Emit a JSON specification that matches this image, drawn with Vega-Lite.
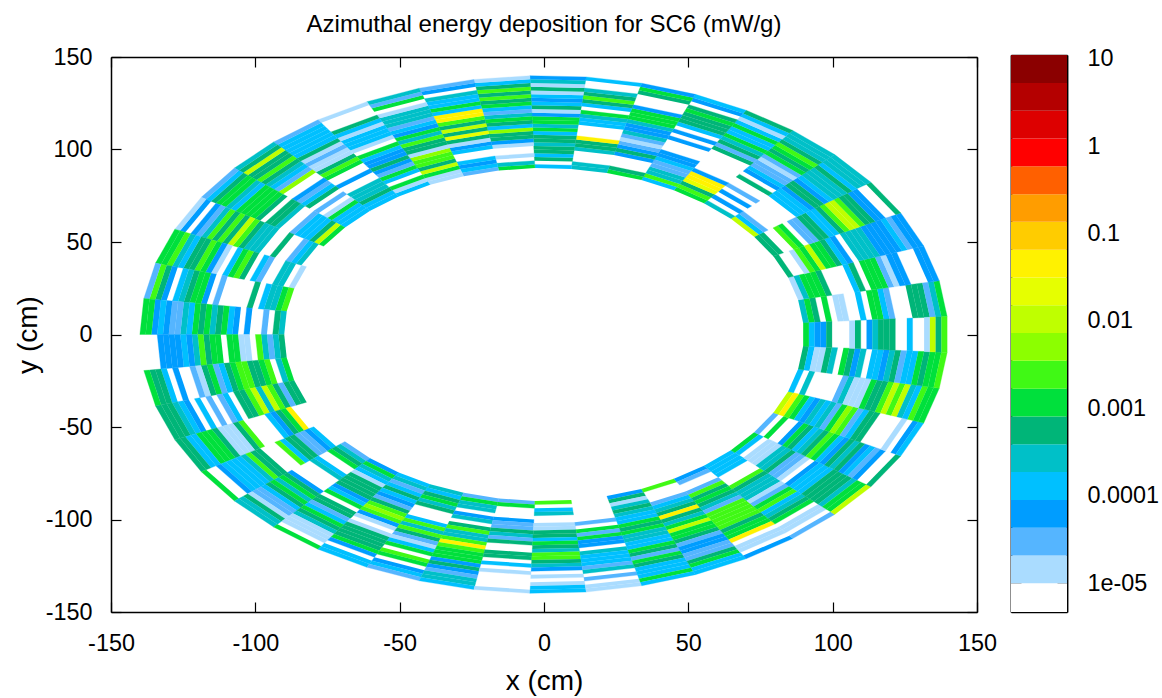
{"$schema":"https://vega.github.io/schema/vega-lite/v6.json","background":"white","width":1162,"height":698,"autosize":{"type":"none"},"padding":0,"config":{"font":"Liberation Sans","view":{"stroke":null},"axis":{"labelFont":"Liberation Sans","titleFont":"Liberation Sans","labelFontSize":23.4,"titleFontSize":28,"labelColor":"black","titleColor":"black","tickColor":"black","tickWidth":1.2,"domain":true,"domainColor":"black","domainWidth":1.5,"grid":false,"titleFontWeight":"normal","labelFlush":false,"labelOverlap":false}},
"title":{"text":"Azimuthal energy deposition for SC6 (mW/g)","font":"Liberation Sans","fontSize":24,"fontWeight":"normal","anchor":"middle","frame":"group","offset":-37,"dx":-37},
"resolve":{"scale":{"x":"independent","y":"independent","fill":"independent","stroke":"independent","color":"independent"},"axis":{"x":"independent","y":"independent"}},
"layer":[{"data":{"values":[
{"s":0,"r":0,"v":2.7e-4},{"s":0,"r":1,"v":1.2e-3},{"s":0,"r":2,"v":5.6e-4},{"s":0,"r":4,"v":1.2e-3},{"s":0,"r":6,"v":1.4e-5},{"s":0,"r":7,"v":1.4e-5},{"s":0,"r":10,"v":1.3e-4},{"s":0,"r":12,"v":1.2e-3},{"s":0,"r":13,"v":1.2e-3},{"s":0,"r":14,"v":1.3e-4},{"s":0,"r":15,"v":3e-5},{"s":0,"r":19,"v":5.6e-4},{"s":0,"r":20,"v":5.6e-4},{"s":0,"r":21,"v":5.6e-4},{"s":0,"r":22,"v":3e-5},{"s":0,"r":23,"v":2.7e-4},{"s":0,"r":24,"v":1.2e-3},
{"s":1,"r":0,"v":1.4e-5},{"s":1,"r":1,"v":2.7e-4},{"s":1,"r":2,"v":1.2e-3},{"s":1,"r":3,"v":1.2e-3},{"s":1,"r":4,"v":1.2e-3},{"s":1,"r":5,"v":5.6e-4},{"s":1,"r":10,"v":1.3e-4},{"s":1,"r":11,"v":5.6e-4},{"s":1,"r":13,"v":1.2e-3},{"s":1,"r":14,"v":1.2e-3},{"s":1,"r":15,"v":1.2e-3},{"s":1,"r":16,"v":3e-5},{"s":1,"r":17,"v":1.4e-5},{"s":1,"r":18,"v":6.2e-5},{"s":1,"r":19,"v":6.2e-5},{"s":1,"r":23,"v":6.2e-5},{"s":1,"r":24,"v":6.2e-5},
{"s":2,"r":0,"v":5.6e-4},{"s":2,"r":3,"v":1.4e-5},{"s":2,"r":4,"v":2.4e-3},{"s":2,"r":5,"v":1.2e-3},{"s":2,"r":6,"v":1e-2},{"s":2,"r":7,"v":1.2e-3},{"s":2,"r":8,"v":1.2e-3},{"s":2,"r":9,"v":5.6e-4},{"s":2,"r":10,"v":1.3e-4},{"s":2,"r":11,"v":6.2e-5},{"s":2,"r":13,"v":2.7e-4},{"s":2,"r":14,"v":2.7e-4},{"s":2,"r":15,"v":2.7e-4},{"s":2,"r":16,"v":2.7e-4},{"s":2,"r":17,"v":6.2e-5},{"s":2,"r":18,"v":6.2e-5},{"s":2,"r":19,"v":6.2e-5},{"s":2,"r":20,"v":6.2e-5},{"s":2,"r":21,"v":1.3e-4},{"s":2,"r":22,"v":3e-5},{"s":2,"r":23,"v":6.2e-5},{"s":2,"r":24,"v":6.2e-5},
{"s":3,"r":0,"v":5.6e-4},{"s":3,"r":1,"v":5.6e-4},{"s":3,"r":4,"v":2.4e-3},{"s":3,"r":5,"v":1.2e-3},{"s":3,"r":7,"v":3e-5},{"s":3,"r":8,"v":3e-5},{"s":3,"r":9,"v":5.6e-4},{"s":3,"r":10,"v":5.6e-4},{"s":3,"r":11,"v":1.3e-4},{"s":3,"r":12,"v":1.3e-4},{"s":3,"r":13,"v":5.6e-4},{"s":3,"r":14,"v":2.4e-3},{"s":3,"r":15,"v":1e-2},{"s":3,"r":16,"v":1e-2},{"s":3,"r":17,"v":2.4e-3},{"s":3,"r":18,"v":5.6e-4},{"s":3,"r":19,"v":5.6e-4},{"s":3,"r":20,"v":6.2e-5},{"s":3,"r":21,"v":6.2e-5},{"s":3,"r":24,"v":5.6e-4},
{"s":4,"r":0,"v":1e-2},{"s":4,"r":1,"v":1.3e-4},{"s":4,"r":2,"v":3e-5},{"s":4,"r":9,"v":1.3e-4},{"s":4,"r":10,"v":1.3e-4},{"s":4,"r":11,"v":1.3e-4},{"s":4,"r":12,"v":6.2e-5},{"s":4,"r":13,"v":5.6e-4},{"s":4,"r":14,"v":5.6e-4},{"s":4,"r":15,"v":6.2e-5},{"s":4,"r":16,"v":1.3e-4},{"s":4,"r":17,"v":2.7e-4},{"s":4,"r":18,"v":2.7e-4},{"s":4,"r":19,"v":2.7e-4},{"s":4,"r":20,"v":5.6e-4},{"s":4,"r":21,"v":1.3e-4},{"s":4,"r":22,"v":2.7e-4},{"s":4,"r":23,"v":2.7e-4},{"s":4,"r":24,"v":2.7e-4},
{"s":5,"r":0,"v":2.7e-4},{"s":5,"r":2,"v":6.2e-5},{"s":5,"r":4,"v":6.2e-5},{"s":5,"r":6,"v":3e-5},{"s":5,"r":9,"v":5.6e-4},{"s":5,"r":11,"v":6.2e-5},{"s":5,"r":12,"v":1.3e-4},{"s":5,"r":13,"v":3e-5},{"s":5,"r":14,"v":3e-5},{"s":5,"r":15,"v":1.4e-5},{"s":5,"r":16,"v":3e-5},{"s":5,"r":17,"v":1.2e-3},{"s":5,"r":18,"v":5.6e-4},{"s":5,"r":19,"v":1.2e-3},{"s":5,"r":20,"v":2.4e-3},{"s":5,"r":21,"v":5.6e-4},{"s":5,"r":22,"v":2.7e-4},{"s":5,"r":23,"v":2.7e-4},{"s":5,"r":24,"v":2.7e-4},
{"s":6,"r":0,"v":1.2e-3},{"s":6,"r":1,"v":2.4e-3},{"s":6,"r":2,"v":5.6e-4},{"s":6,"r":3,"v":2.2e-2},{"s":6,"r":4,"v":4.5e-2},{"s":6,"r":5,"v":4.5e-2},{"s":6,"r":6,"v":6.2e-5},{"s":6,"r":13,"v":5.6e-4},{"s":6,"r":14,"v":3e-5},{"s":6,"r":15,"v":5.6e-4},{"s":6,"r":16,"v":2.7e-4},{"s":6,"r":17,"v":1.2e-3},{"s":6,"r":18,"v":1.3e-4},{"s":6,"r":19,"v":1.3e-4},{"s":6,"r":20,"v":1.2e-3},{"s":6,"r":21,"v":1.3e-4},{"s":6,"r":22,"v":1.4e-5},{"s":6,"r":23,"v":1.3e-4},{"s":6,"r":24,"v":5.6e-4},
{"s":7,"r":0,"v":1.3e-4},{"s":7,"r":1,"v":2.4e-3},{"s":7,"r":2,"v":2.7e-4},{"s":7,"r":3,"v":2.7e-4},{"s":7,"r":4,"v":3e-5},{"s":7,"r":5,"v":3e-5},{"s":7,"r":6,"v":1.3e-4},{"s":7,"r":7,"v":6.2e-5},{"s":7,"r":8,"v":6.2e-5},{"s":7,"r":12,"v":6.2e-5},{"s":7,"r":14,"v":6.2e-5},{"s":7,"r":16,"v":1.3e-4},{"s":7,"r":17,"v":5.6e-4},{"s":7,"r":18,"v":5.6e-4},{"s":7,"r":19,"v":5.6e-4},{"s":7,"r":20,"v":1.2e-3},{"s":7,"r":21,"v":5.6e-4},{"s":7,"r":23,"v":6.2e-5},{"s":7,"r":24,"v":1.3e-4},
{"s":8,"r":0,"v":1.2e-3},{"s":8,"r":1,"v":5.6e-4},{"s":8,"r":5,"v":6.2e-5},{"s":8,"r":6,"v":5.6e-4},{"s":8,"r":7,"v":6.2e-5},{"s":8,"r":8,"v":3e-5},{"s":8,"r":9,"v":1.4e-5},{"s":8,"r":10,"v":3e-5},{"s":8,"r":11,"v":2.7e-4},{"s":8,"r":12,"v":6.2e-5},{"s":8,"r":13,"v":6.2e-5},{"s":8,"r":14,"v":2.7e-4},{"s":8,"r":15,"v":1.2e-3},{"s":8,"r":16,"v":1.2e-3},{"s":8,"r":17,"v":1.2e-3},{"s":8,"r":18,"v":6.2e-5},{"s":8,"r":22,"v":5.6e-4},{"s":8,"r":23,"v":1.2e-3},{"s":8,"r":24,"v":6.2e-5},
{"s":9,"r":0,"v":2.7e-4},{"s":9,"r":1,"v":2.7e-4},{"s":9,"r":5,"v":2.7e-4},{"s":9,"r":6,"v":5.6e-4},{"s":9,"r":7,"v":5.6e-4},{"s":9,"r":8,"v":4.5e-2},{"s":9,"r":12,"v":1.3e-4},{"s":9,"r":13,"v":1.3e-4},{"s":9,"r":14,"v":2.7e-4},{"s":9,"r":15,"v":1.2e-3},{"s":9,"r":17,"v":1.3e-4},{"s":9,"r":18,"v":5.6e-4},{"s":9,"r":19,"v":2.4e-3},{"s":9,"r":20,"v":5.6e-4},{"s":9,"r":21,"v":2.7e-4},{"s":9,"r":24,"v":1.3e-4},
{"s":10,"r":0,"v":1.3e-4},{"s":10,"r":2,"v":5.6e-4},{"s":10,"r":3,"v":1.3e-4},{"s":10,"r":4,"v":5.6e-4},{"s":10,"r":5,"v":5.6e-4},{"s":10,"r":6,"v":2.7e-4},{"s":10,"r":7,"v":5.6e-4},{"s":10,"r":8,"v":5.6e-4},{"s":10,"r":9,"v":1.3e-4},{"s":10,"r":10,"v":1.2e-3},{"s":10,"r":11,"v":2.7e-4},{"s":10,"r":12,"v":1.2e-3},{"s":10,"r":13,"v":1.2e-3},{"s":10,"r":14,"v":6.2e-5},{"s":10,"r":15,"v":1.4e-5},{"s":10,"r":16,"v":5.6e-4},{"s":10,"r":17,"v":1.3e-4},{"s":10,"r":18,"v":6.2e-5},{"s":10,"r":19,"v":1.3e-4},{"s":10,"r":20,"v":1.4e-5},{"s":10,"r":21,"v":5.6e-4},{"s":10,"r":22,"v":1.4e-5},{"s":10,"r":23,"v":2.7e-4},{"s":10,"r":24,"v":6.2e-5},
{"s":11,"r":0,"v":1.2e-3},{"s":11,"r":1,"v":2.7e-4},{"s":11,"r":3,"v":1.4e-5},{"s":11,"r":6,"v":1.4e-5},{"s":11,"r":7,"v":6.2e-5},{"s":11,"r":8,"v":5.6e-4},{"s":11,"r":9,"v":5.6e-4},{"s":11,"r":10,"v":5e-3},{"s":11,"r":11,"v":1.3e-4},{"s":11,"r":12,"v":5.6e-4},{"s":11,"r":13,"v":1.2e-3},{"s":11,"r":14,"v":2.7e-4},{"s":11,"r":15,"v":3e-5},{"s":11,"r":16,"v":1.3e-4},{"s":11,"r":17,"v":1.2e-3},{"s":11,"r":18,"v":5.6e-4},{"s":11,"r":19,"v":2.4e-3},{"s":11,"r":20,"v":5.6e-4},{"s":11,"r":21,"v":2.4e-3},{"s":11,"r":22,"v":5.6e-4},{"s":11,"r":23,"v":1.3e-4},{"s":11,"r":24,"v":1.4e-5},
{"s":12,"r":0,"v":3e-5},{"s":12,"r":1,"v":1.3e-4},{"s":12,"r":2,"v":6.2e-5},{"s":12,"r":3,"v":1.3e-4},{"s":12,"r":6,"v":1.3e-4},{"s":12,"r":7,"v":6.2e-5},{"s":12,"r":8,"v":1.4e-5},{"s":12,"r":9,"v":5.6e-4},{"s":12,"r":10,"v":2.2e-2},{"s":12,"r":11,"v":5.6e-4},{"s":12,"r":12,"v":1e-2},{"s":12,"r":13,"v":5.6e-4},{"s":12,"r":14,"v":2.4e-3},{"s":12,"r":15,"v":4.5e-2},{"s":12,"r":16,"v":4.5e-2},{"s":12,"r":17,"v":1.3e-4},{"s":12,"r":18,"v":1.2e-3},{"s":12,"r":19,"v":1.3e-4},{"s":12,"r":20,"v":1.3e-4},{"s":12,"r":21,"v":2.7e-4},{"s":12,"r":23,"v":6.2e-5},{"s":12,"r":24,"v":3e-5},
{"s":13,"r":0,"v":1.4e-5},{"s":13,"r":1,"v":1.4e-5},{"s":13,"r":2,"v":1.2e-3},{"s":13,"r":3,"v":1e-2},{"s":13,"r":4,"v":5.6e-4},{"s":13,"r":5,"v":2.4e-3},{"s":13,"r":6,"v":2.4e-3},{"s":13,"r":7,"v":5e-3},{"s":13,"r":8,"v":1.4e-5},{"s":13,"r":9,"v":5.6e-4},{"s":13,"r":10,"v":5.6e-4},{"s":13,"r":11,"v":2.4e-3},{"s":13,"r":12,"v":2.7e-4},{"s":13,"r":13,"v":1.2e-3},{"s":13,"r":14,"v":6.2e-5},{"s":13,"r":15,"v":1.3e-4},{"s":13,"r":16,"v":3e-5},{"s":13,"r":17,"v":2.7e-4},{"s":13,"r":18,"v":2.7e-4},{"s":13,"r":19,"v":2.7e-4},{"s":13,"r":20,"v":1.4e-5},{"s":13,"r":22,"v":1.2e-3},{"s":13,"r":23,"v":3e-5},{"s":13,"r":24,"v":2.7e-4},
{"s":14,"r":0,"v":1.3e-4},{"s":14,"r":1,"v":1.4e-5},{"s":14,"r":2,"v":1.2e-3},{"s":14,"r":4,"v":1.3e-4},{"s":14,"r":5,"v":1.2e-3},{"s":14,"r":6,"v":3e-5},{"s":14,"r":7,"v":6.2e-5},{"s":14,"r":8,"v":5.6e-4},{"s":14,"r":9,"v":6.2e-5},{"s":14,"r":10,"v":6.2e-5},{"s":14,"r":11,"v":1.3e-4},{"s":14,"r":12,"v":1.2e-3},{"s":14,"r":14,"v":1.4e-5},{"s":14,"r":15,"v":1.3e-4},{"s":14,"r":16,"v":1.3e-4},{"s":14,"r":17,"v":1.3e-4},{"s":14,"r":18,"v":1.4e-5},{"s":14,"r":19,"v":1.3e-4},{"s":14,"r":20,"v":5.6e-4},{"s":14,"r":24,"v":1.4e-5},
{"s":15,"r":0,"v":1.3e-4},{"s":15,"r":1,"v":1.3e-4},{"s":15,"r":2,"v":5.6e-4},{"s":15,"r":3,"v":2.7e-4},{"s":15,"r":4,"v":2.7e-4},{"s":15,"r":5,"v":2.7e-4},{"s":15,"r":8,"v":6.2e-5},{"s":15,"r":11,"v":1.2e-3},{"s":15,"r":12,"v":2.4e-3},{"s":15,"r":13,"v":5.6e-4},{"s":15,"r":14,"v":1.4e-5},{"s":15,"r":15,"v":1.4e-5},{"s":15,"r":16,"v":3e-5},{"s":15,"r":17,"v":1.4e-5},{"s":15,"r":18,"v":5.6e-4},{"s":15,"r":19,"v":1.3e-4},{"s":15,"r":20,"v":1.3e-4},{"s":15,"r":21,"v":1.3e-4},{"s":15,"r":22,"v":1.3e-4},{"s":15,"r":23,"v":1.3e-4},{"s":15,"r":24,"v":3e-5},
{"s":16,"r":0,"v":1.3e-4},{"s":16,"r":1,"v":1.3e-4},{"s":16,"r":2,"v":1.3e-4},{"s":16,"r":3,"v":1.2e-3},{"s":16,"r":4,"v":1.4e-5},{"s":16,"r":6,"v":3e-5},{"s":16,"r":8,"v":5.6e-4},{"s":16,"r":9,"v":1.3e-4},{"s":16,"r":10,"v":3e-5},{"s":16,"r":11,"v":6.2e-5},{"s":16,"r":14,"v":5e-3},{"s":16,"r":15,"v":3e-5},{"s":16,"r":16,"v":1.3e-4},{"s":16,"r":17,"v":2.7e-4},{"s":16,"r":18,"v":5.6e-4},{"s":16,"r":19,"v":2.4e-3},{"s":16,"r":20,"v":5.6e-4},{"s":16,"r":21,"v":5.6e-4},{"s":16,"r":22,"v":1e-2},{"s":16,"r":23,"v":5.6e-4},{"s":16,"r":24,"v":2.7e-4},
{"s":17,"r":0,"v":1.2e-3},{"s":17,"r":1,"v":1e-2},{"s":17,"r":2,"v":5.6e-4},{"s":17,"r":3,"v":1.3e-4},{"s":17,"r":4,"v":1.3e-4},{"s":17,"r":5,"v":1.3e-4},{"s":17,"r":6,"v":3e-5},{"s":17,"r":9,"v":2.7e-4},{"s":17,"r":10,"v":5.6e-4},{"s":17,"r":11,"v":5.6e-4},{"s":17,"r":13,"v":5.6e-4},{"s":17,"r":14,"v":1.2e-3},{"s":17,"r":15,"v":1.2e-3},{"s":17,"r":16,"v":1.2e-3},{"s":17,"r":17,"v":1.2e-3},{"s":17,"r":18,"v":1.3e-4},{"s":17,"r":19,"v":2.7e-4},{"s":17,"r":20,"v":1.2e-3},{"s":17,"r":21,"v":1.2e-3},{"s":17,"r":22,"v":5.6e-4},{"s":17,"r":23,"v":1.3e-4},{"s":17,"r":24,"v":3e-5},
{"s":18,"r":1,"v":2.7e-4},{"s":18,"r":2,"v":1.3e-4},{"s":18,"r":3,"v":3e-5},{"s":18,"r":6,"v":5.6e-4},{"s":18,"r":9,"v":2.7e-4},{"s":18,"r":10,"v":2.7e-4},{"s":18,"r":11,"v":2.7e-4},{"s":18,"r":12,"v":5.6e-4},{"s":18,"r":13,"v":2.4e-3},{"s":18,"r":14,"v":1e-2},{"s":18,"r":15,"v":5.6e-4},{"s":18,"r":16,"v":2.4e-3},{"s":18,"r":17,"v":5.6e-4},{"s":18,"r":18,"v":2.4e-3},{"s":18,"r":19,"v":2.7e-4},{"s":18,"r":20,"v":3e-5},{"s":18,"r":21,"v":6.2e-5},{"s":18,"r":23,"v":6.2e-5},{"s":18,"r":24,"v":1.4e-5},
{"s":19,"r":0,"v":1.4e-5},{"s":19,"r":2,"v":2.7e-4},{"s":19,"r":3,"v":2.7e-4},{"s":19,"r":6,"v":3e-5},{"s":19,"r":7,"v":1.3e-4},{"s":19,"r":9,"v":5.6e-4},{"s":19,"r":10,"v":2.4e-3},{"s":19,"r":11,"v":1.2e-3},{"s":19,"r":12,"v":1.3e-4},{"s":19,"r":14,"v":1.4e-5},{"s":19,"r":15,"v":6.2e-5},{"s":19,"r":16,"v":1.2e-3},{"s":19,"r":17,"v":2.4e-3},{"s":19,"r":18,"v":5.6e-4},{"s":19,"r":19,"v":5.6e-4},{"s":19,"r":20,"v":1.3e-4},{"s":19,"r":21,"v":2.7e-4},{"s":19,"r":22,"v":2.4e-3},{"s":19,"r":23,"v":1.2e-3},{"s":19,"r":24,"v":1.2e-3},
{"s":20,"r":0,"v":2.4e-3},{"s":20,"r":1,"v":1.2e-3},{"s":20,"r":2,"v":2.7e-4},{"s":20,"r":3,"v":2.7e-4},{"s":20,"r":4,"v":1.3e-4},{"s":20,"r":6,"v":5.6e-4},{"s":20,"r":12,"v":3e-5},{"s":20,"r":14,"v":6.2e-5},{"s":20,"r":15,"v":1.2e-3},{"s":20,"r":16,"v":1.2e-3},{"s":20,"r":17,"v":5.6e-4},{"s":20,"r":18,"v":2.7e-4},{"s":20,"r":19,"v":1.3e-4},{"s":20,"r":21,"v":6.2e-5},{"s":20,"r":22,"v":5.6e-4},{"s":20,"r":23,"v":2.4e-3},{"s":20,"r":24,"v":3e-5},
{"s":21,"r":0,"v":2.7e-4},{"s":21,"r":1,"v":5.6e-4},{"s":21,"r":3,"v":3e-5},{"s":21,"r":6,"v":6.2e-5},{"s":21,"r":8,"v":6.2e-5},{"s":21,"r":9,"v":1.3e-4},{"s":21,"r":10,"v":1.2e-3},{"s":21,"r":11,"v":5.6e-4},{"s":21,"r":12,"v":2.7e-4},{"s":21,"r":13,"v":1.2e-3},{"s":21,"r":14,"v":5.6e-4},{"s":21,"r":15,"v":1.2e-3},{"s":21,"r":16,"v":1.3e-4},{"s":21,"r":17,"v":2.7e-4},{"s":21,"r":18,"v":3e-5},{"s":21,"r":19,"v":3e-5},{"s":21,"r":20,"v":6.2e-5},{"s":21,"r":21,"v":1.3e-4},{"s":21,"r":22,"v":6.2e-5},{"s":21,"r":23,"v":1.2e-3},{"s":21,"r":24,"v":1.2e-3},
{"s":22,"r":0,"v":5.6e-4},{"s":22,"r":1,"v":2.7e-4},{"s":22,"r":2,"v":3e-5},{"s":22,"r":3,"v":2.7e-4},{"s":22,"r":4,"v":2.4e-3},{"s":22,"r":6,"v":1.4e-5},{"s":22,"r":7,"v":1.4e-5},{"s":22,"r":8,"v":1.2e-3},{"s":22,"r":9,"v":1.2e-3},{"s":22,"r":11,"v":1.2e-3},{"s":22,"r":12,"v":1.2e-3},{"s":22,"r":13,"v":5.6e-4},{"s":22,"r":14,"v":2.4e-3},{"s":22,"r":15,"v":2.7e-4},{"s":22,"r":16,"v":6.2e-5},{"s":22,"r":17,"v":1.3e-4},{"s":22,"r":18,"v":6.2e-5},{"s":22,"r":19,"v":6.2e-5},{"s":22,"r":20,"v":6.2e-5},{"s":22,"r":21,"v":6.2e-5},
{"s":23,"r":0,"v":1.2e-3},{"s":23,"r":1,"v":2.7e-4},{"s":23,"r":3,"v":2.4e-3},{"s":23,"r":4,"v":1.2e-3},{"s":23,"r":5,"v":5.6e-4},{"s":23,"r":6,"v":5.6e-4},{"s":23,"r":7,"v":2.4e-3},{"s":23,"r":8,"v":2.4e-3},{"s":23,"r":9,"v":1.2e-3},{"s":23,"r":10,"v":5.6e-4},{"s":23,"r":11,"v":1.3e-4},{"s":23,"r":12,"v":3e-5},{"s":23,"r":13,"v":1.2e-3},{"s":23,"r":14,"v":5.6e-4},{"s":23,"r":15,"v":1.4e-5},{"s":23,"r":16,"v":3e-5},{"s":23,"r":19,"v":6.2e-5},{"s":23,"r":21,"v":1.3e-4},{"s":23,"r":22,"v":5.6e-4},{"s":23,"r":23,"v":5.6e-4},{"s":23,"r":24,"v":1.2e-3},
{"s":24,"r":0,"v":5.6e-4},{"s":24,"r":1,"v":5.6e-4},{"s":24,"r":2,"v":3e-5},{"s":24,"r":3,"v":5.6e-4},{"s":24,"r":4,"v":2.4e-3},{"s":24,"r":5,"v":1e-2},{"s":24,"r":6,"v":2.7e-4},{"s":24,"r":7,"v":1e-2},{"s":24,"r":8,"v":2.4e-3},{"s":24,"r":9,"v":5.6e-4},{"s":24,"r":10,"v":5.6e-4},{"s":24,"r":12,"v":1.3e-4},{"s":24,"r":13,"v":3e-5},{"s":24,"r":15,"v":3e-5},{"s":24,"r":17,"v":1.3e-4},{"s":24,"r":19,"v":6.2e-5},{"s":24,"r":20,"v":1.3e-4},{"s":24,"r":21,"v":2.7e-4},{"s":24,"r":22,"v":5.6e-4},{"s":24,"r":23,"v":5.6e-4},{"s":24,"r":24,"v":5.6e-4},
{"s":25,"r":3,"v":4.5e-2},{"s":25,"r":4,"v":1.2e-3},{"s":25,"r":5,"v":5.6e-4},{"s":25,"r":6,"v":6.2e-5},{"s":25,"r":7,"v":1.3e-4},{"s":25,"r":12,"v":2.4e-3},{"s":25,"r":13,"v":5.6e-4},{"s":25,"r":14,"v":1.4e-5},{"s":25,"r":15,"v":1.4e-5},{"s":25,"r":16,"v":1.4e-5},{"s":25,"r":17,"v":5.6e-4},{"s":25,"r":18,"v":1.2e-3},{"s":25,"r":19,"v":1.2e-3},{"s":25,"r":20,"v":1.2e-3},{"s":25,"r":21,"v":1.3e-4},{"s":25,"r":22,"v":1.3e-4},{"s":25,"r":23,"v":5.6e-4},{"s":25,"r":24,"v":5.6e-4},
{"s":26,"r":2,"v":1.3e-4},{"s":26,"r":3,"v":6.2e-5},{"s":26,"r":4,"v":3e-5},{"s":26,"r":5,"v":3e-5},{"s":26,"r":6,"v":5.6e-4},{"s":26,"r":7,"v":5.6e-4},{"s":26,"r":8,"v":1.3e-4},{"s":26,"r":9,"v":2.4e-3},{"s":26,"r":13,"v":5.6e-4},{"s":26,"r":14,"v":5.6e-4},{"s":26,"r":15,"v":2.4e-3},{"s":26,"r":16,"v":2.7e-4},{"s":26,"r":17,"v":1.3e-4},{"s":26,"r":18,"v":1.3e-4},{"s":26,"r":19,"v":1.3e-4},{"s":26,"r":20,"v":1.3e-4},{"s":26,"r":21,"v":6.2e-5},{"s":26,"r":24,"v":1.2e-3},
{"s":27,"r":0,"v":3e-5},{"s":27,"r":1,"v":2.7e-4},{"s":27,"r":2,"v":5.6e-4},{"s":27,"r":3,"v":1.2e-3},{"s":27,"r":6,"v":1.3e-4},{"s":27,"r":7,"v":2.7e-4},{"s":27,"r":12,"v":6.2e-5},{"s":27,"r":13,"v":5.6e-4},{"s":27,"r":14,"v":1.2e-3},{"s":27,"r":15,"v":2.7e-4},{"s":27,"r":16,"v":1.2e-3},{"s":27,"r":17,"v":5.6e-4},{"s":27,"r":18,"v":1.3e-4},{"s":27,"r":19,"v":3e-5},{"s":27,"r":20,"v":3e-5},{"s":27,"r":21,"v":1.4e-5},{"s":27,"r":22,"v":5.6e-4},{"s":27,"r":23,"v":2.7e-4},{"s":27,"r":24,"v":2.7e-4},
{"s":28,"r":0,"v":6.2e-5},{"s":28,"r":1,"v":1.2e-3},{"s":28,"r":2,"v":2.7e-4},{"s":28,"r":3,"v":1.3e-4},{"s":28,"r":4,"v":1.4e-5},{"s":28,"r":5,"v":5.6e-4},{"s":28,"r":6,"v":5.6e-4},{"s":28,"r":7,"v":5.6e-4},{"s":28,"r":8,"v":5.6e-4},{"s":28,"r":9,"v":6.2e-5},{"s":28,"r":10,"v":1.3e-4},{"s":28,"r":11,"v":1.2e-3},{"s":28,"r":13,"v":5.6e-4},{"s":28,"r":14,"v":5.6e-4},{"s":28,"r":15,"v":3e-5},{"s":28,"r":16,"v":1.3e-4},{"s":28,"r":17,"v":1.2e-3},{"s":28,"r":18,"v":5.6e-4},{"s":28,"r":19,"v":2.7e-4},{"s":28,"r":20,"v":1.4e-5},{"s":28,"r":21,"v":1.4e-5},{"s":28,"r":22,"v":1.4e-5},{"s":28,"r":24,"v":1.2e-3},
{"s":29,"r":0,"v":1.3e-4},{"s":29,"r":1,"v":2.7e-4},{"s":29,"r":2,"v":3e-5},{"s":29,"r":3,"v":1.3e-4},{"s":29,"r":4,"v":5.6e-4},{"s":29,"r":5,"v":1.3e-4},{"s":29,"r":6,"v":6.2e-5},{"s":29,"r":7,"v":3e-5},{"s":29,"r":8,"v":5.6e-4},{"s":29,"r":9,"v":2.4e-3},{"s":29,"r":10,"v":5e-3},{"s":29,"r":11,"v":2.4e-3},{"s":29,"r":12,"v":6.2e-5},{"s":29,"r":13,"v":1.4e-5},{"s":29,"r":15,"v":1.4e-5},{"s":29,"r":16,"v":5.6e-4},{"s":29,"r":17,"v":5.6e-4},{"s":29,"r":18,"v":5.6e-4},{"s":29,"r":19,"v":5.6e-4},{"s":29,"r":20,"v":1.2e-3},{"s":29,"r":21,"v":6.2e-5},{"s":29,"r":23,"v":1.3e-4},{"s":29,"r":24,"v":1.3e-4},
{"s":30,"r":0,"v":2.7e-4},{"s":30,"r":1,"v":1.3e-4},{"s":30,"r":2,"v":5.6e-4},{"s":30,"r":3,"v":1.2e-3},{"s":30,"r":4,"v":2.7e-4},{"s":30,"r":5,"v":5.6e-4},{"s":30,"r":9,"v":1.3e-4},{"s":30,"r":10,"v":2.4e-3},{"s":30,"r":11,"v":2.7e-4},{"s":30,"r":12,"v":2.4e-3},{"s":30,"r":13,"v":5.6e-4},{"s":30,"r":14,"v":3e-5},{"s":30,"r":15,"v":1.4e-5},{"s":30,"r":16,"v":1.3e-4},{"s":30,"r":17,"v":1.2e-3},{"s":30,"r":19,"v":2.4e-3},{"s":30,"r":20,"v":1.2e-3},{"s":30,"r":22,"v":6.2e-5},{"s":30,"r":23,"v":1.3e-4},{"s":30,"r":24,"v":3e-5},
{"s":31,"r":0,"v":3e-5},{"s":31,"r":1,"v":1.2e-3},{"s":31,"r":2,"v":2.7e-4},{"s":31,"r":3,"v":2.7e-4},{"s":31,"r":5,"v":6.2e-5},{"s":31,"r":6,"v":2.7e-4},{"s":31,"r":8,"v":5.6e-4},{"s":31,"r":9,"v":2.4e-3},{"s":31,"r":10,"v":2.7e-4},{"s":31,"r":11,"v":2.7e-4},{"s":31,"r":12,"v":2.4e-3},{"s":31,"r":13,"v":4.5e-2},{"s":31,"r":14,"v":2.4e-3},{"s":31,"r":15,"v":1.2e-3},{"s":31,"r":16,"v":1.2e-3},{"s":31,"r":17,"v":1.2e-3},{"s":31,"r":18,"v":6.2e-5},{"s":31,"r":19,"v":5.6e-4},{"s":31,"r":20,"v":6.2e-5},{"s":31,"r":21,"v":3e-5},{"s":31,"r":22,"v":2.7e-4},{"s":31,"r":23,"v":2.7e-4},{"s":31,"r":24,"v":1.3e-4},
{"s":32,"r":0,"v":3e-5},{"s":32,"r":1,"v":1.2e-3},{"s":32,"r":5,"v":6.2e-5},{"s":32,"r":6,"v":3e-5},{"s":32,"r":7,"v":3e-5},{"s":32,"r":8,"v":5.6e-4},{"s":32,"r":9,"v":2.7e-4},{"s":32,"r":10,"v":3e-5},{"s":32,"r":11,"v":5.6e-4},{"s":32,"r":14,"v":5.6e-4},{"s":32,"r":15,"v":5.6e-4},{"s":32,"r":17,"v":1.3e-4},{"s":32,"r":19,"v":1.4e-5},{"s":32,"r":24,"v":1.4e-5},
{"s":33,"r":0,"v":2.4e-3},{"s":33,"r":2,"v":1.3e-4},{"s":33,"r":3,"v":2.7e-4},{"s":33,"r":6,"v":1.4e-5},{"s":33,"r":7,"v":1.4e-5},{"s":33,"r":8,"v":5.6e-4},{"s":33,"r":9,"v":5.6e-4},{"s":33,"r":10,"v":1.3e-4},{"s":33,"r":11,"v":1.2e-3},{"s":33,"r":12,"v":5.6e-4},{"s":33,"r":13,"v":2.7e-4},{"s":33,"r":14,"v":2.4e-3},{"s":33,"r":15,"v":2.4e-3},{"s":33,"r":16,"v":5.6e-4},{"s":33,"r":17,"v":2.7e-4},{"s":33,"r":18,"v":6.2e-5},{"s":33,"r":20,"v":1.4e-5},{"s":33,"r":22,"v":1.4e-5},{"s":33,"r":23,"v":1.3e-4},{"s":33,"r":24,"v":1.3e-4},
{"s":34,"r":6,"v":3e-5},{"s":34,"r":8,"v":1.2e-3},{"s":34,"r":9,"v":3e-5},{"s":34,"r":10,"v":1.2e-3},{"s":34,"r":11,"v":6.2e-5},{"s":34,"r":12,"v":6.2e-5},{"s":34,"r":14,"v":2.7e-4},{"s":34,"r":15,"v":1.3e-4},{"s":34,"r":16,"v":1.3e-4},{"s":34,"r":17,"v":1.3e-4},{"s":34,"r":18,"v":3e-5},{"s":34,"r":19,"v":2.7e-4},{"s":34,"r":21,"v":3e-5},{"s":34,"r":23,"v":1.4e-5},{"s":34,"r":24,"v":1.4e-5},
{"s":35,"r":0,"v":6.2e-5},{"s":35,"r":1,"v":5.6e-4},{"s":35,"r":2,"v":1.4e-5},{"s":35,"r":3,"v":2.7e-4},{"s":35,"r":4,"v":5.6e-4},{"s":35,"r":5,"v":2.7e-4},{"s":35,"r":6,"v":1.3e-4},{"s":35,"r":7,"v":1.3e-4},{"s":35,"r":8,"v":1.2e-3},{"s":35,"r":9,"v":5.6e-4},{"s":35,"r":10,"v":1.2e-3},{"s":35,"r":11,"v":2.7e-4},{"s":35,"r":12,"v":2.7e-4},{"s":35,"r":13,"v":1.3e-4},{"s":35,"r":14,"v":1.3e-4},{"s":35,"r":15,"v":1.2e-3},{"s":35,"r":16,"v":5.6e-4},{"s":35,"r":17,"v":3e-5},{"s":35,"r":18,"v":1.2e-3},{"s":35,"r":19,"v":5.6e-4},{"s":35,"r":20,"v":1.3e-4},{"s":35,"r":21,"v":1.3e-4},{"s":35,"r":22,"v":1.3e-4},{"s":35,"r":23,"v":1.2e-3},{"s":35,"r":24,"v":1.3e-4},
{"s":36,"r":0,"v":2.4e-3},{"s":36,"r":4,"v":3e-5},{"s":36,"r":5,"v":1.3e-4},{"s":36,"r":6,"v":2.7e-4},{"s":36,"r":7,"v":5.6e-4},{"s":36,"r":8,"v":4.5e-2},{"s":36,"r":9,"v":5.6e-4},{"s":36,"r":10,"v":2.7e-4},{"s":36,"r":11,"v":1.2e-3},{"s":36,"r":12,"v":1e-2},{"s":36,"r":13,"v":1.2e-3},{"s":36,"r":14,"v":1.2e-3},{"s":36,"r":15,"v":5.6e-4},{"s":36,"r":16,"v":3e-5},{"s":36,"r":17,"v":6.2e-5},{"s":36,"r":18,"v":6.2e-5},{"s":36,"r":19,"v":3e-5},{"s":36,"r":20,"v":3e-5},{"s":36,"r":21,"v":5.6e-4},{"s":36,"r":22,"v":1.2e-3},{"s":36,"r":23,"v":1.3e-4},{"s":36,"r":24,"v":1.3e-4},
{"s":37,"r":0,"v":6.2e-5},{"s":37,"r":1,"v":3e-5},{"s":37,"r":4,"v":3e-5},{"s":37,"r":5,"v":2.4e-3},{"s":37,"r":6,"v":5.6e-4},{"s":37,"r":7,"v":1.2e-3},{"s":37,"r":8,"v":5.6e-4},{"s":37,"r":9,"v":2.7e-4},{"s":37,"r":10,"v":3e-5},{"s":37,"r":11,"v":2.4e-3},{"s":37,"r":12,"v":2.4e-3},{"s":37,"r":13,"v":2.4e-3},{"s":37,"r":14,"v":2.4e-3},{"s":37,"r":15,"v":2.4e-3},{"s":37,"r":16,"v":5.6e-4},{"s":37,"r":17,"v":1.2e-3},{"s":37,"r":18,"v":1.2e-3},{"s":37,"r":19,"v":4.5e-2},{"s":37,"r":21,"v":1.4e-5},{"s":37,"r":22,"v":1.4e-5},{"s":37,"r":24,"v":6.2e-5},
{"s":38,"r":0,"v":1.3e-4},{"s":38,"r":1,"v":1.3e-4},{"s":38,"r":2,"v":1.3e-4},{"s":38,"r":3,"v":1.3e-4},{"s":38,"r":7,"v":2.4e-3},{"s":38,"r":8,"v":5.6e-4},{"s":38,"r":9,"v":2.7e-4},{"s":38,"r":10,"v":2.7e-4},{"s":38,"r":11,"v":2.7e-4},{"s":38,"r":12,"v":1.4e-5},{"s":38,"r":13,"v":3e-5},{"s":38,"r":14,"v":1.2e-3},{"s":38,"r":15,"v":2.4e-3},{"s":38,"r":16,"v":1.3e-4},{"s":38,"r":17,"v":2.7e-4},{"s":38,"r":18,"v":5.6e-4},{"s":38,"r":19,"v":1.2e-3},{"s":38,"r":21,"v":1.4e-5},{"s":38,"r":22,"v":1.4e-5},{"s":38,"r":24,"v":3e-5},
{"s":39,"r":0,"v":1.2e-3},{"s":39,"r":1,"v":1.3e-4},{"s":39,"r":3,"v":1.4e-5},{"s":39,"r":4,"v":1.4e-5},{"s":39,"r":5,"v":1.4e-5},{"s":39,"r":6,"v":2.7e-4},{"s":39,"r":7,"v":2.7e-4},{"s":39,"r":8,"v":5.6e-4},{"s":39,"r":9,"v":3e-5},{"s":39,"r":10,"v":3e-5},{"s":39,"r":11,"v":1.4e-5},{"s":39,"r":13,"v":6.2e-5},{"s":39,"r":14,"v":1.3e-4},{"s":39,"r":15,"v":1.3e-4},{"s":39,"r":16,"v":1.3e-4},{"s":39,"r":17,"v":5.6e-4},{"s":39,"r":18,"v":5.6e-4},{"s":39,"r":19,"v":5.6e-4},{"s":39,"r":20,"v":5.6e-4},{"s":39,"r":21,"v":2.7e-4},{"s":39,"r":22,"v":1.2e-3},{"s":39,"r":23,"v":1.2e-3},{"s":39,"r":24,"v":1e-2},
{"s":40,"r":0,"v":3e-5},{"s":40,"r":2,"v":1.2e-3},{"s":40,"r":5,"v":6.2e-5},{"s":40,"r":6,"v":1.2e-3},{"s":40,"r":7,"v":5.6e-4},{"s":40,"r":8,"v":1.3e-4},{"s":40,"r":9,"v":2.7e-4},{"s":40,"r":10,"v":5.6e-4},{"s":40,"r":11,"v":2.4e-3},{"s":40,"r":12,"v":1.2e-3},{"s":40,"r":13,"v":1.3e-4},{"s":40,"r":14,"v":6.2e-5},{"s":40,"r":15,"v":5.6e-4},{"s":40,"r":16,"v":2.7e-4},{"s":40,"r":17,"v":5.6e-4},{"s":40,"r":18,"v":6.2e-5},{"s":40,"r":19,"v":1.3e-4},{"s":40,"r":20,"v":3e-5},{"s":40,"r":21,"v":6.2e-5},{"s":40,"r":24,"v":5.6e-4},
{"s":41,"r":0,"v":1e-2},{"s":41,"r":1,"v":4.5e-2},{"s":41,"r":2,"v":2.4e-3},{"s":41,"r":3,"v":1.2e-3},{"s":41,"r":4,"v":1.3e-4},{"s":41,"r":5,"v":6.2e-5},{"s":41,"r":6,"v":2.7e-4},{"s":41,"r":7,"v":1.3e-4},{"s":41,"r":8,"v":2.7e-4},{"s":41,"r":9,"v":3e-5},{"s":41,"r":10,"v":1.2e-3},{"s":41,"r":11,"v":5e-3},{"s":41,"r":12,"v":2.4e-3},{"s":41,"r":13,"v":3e-5},{"s":41,"r":14,"v":1.3e-4},{"s":41,"r":15,"v":5.6e-4},{"s":41,"r":16,"v":5.6e-4},{"s":41,"r":21,"v":1.4e-5},{"s":41,"r":23,"v":6.2e-5},{"s":41,"r":24,"v":1.3e-4},
{"s":42,"r":0,"v":1.3e-4},{"s":42,"r":2,"v":2.7e-4},{"s":42,"r":8,"v":3e-5},{"s":42,"r":9,"v":2.7e-4},{"s":42,"r":10,"v":1.4e-5},{"s":42,"r":11,"v":1.4e-5},{"s":42,"r":12,"v":1.4e-5},{"s":42,"r":13,"v":1.2e-3},{"s":42,"r":14,"v":5.6e-4},{"s":42,"r":15,"v":5.6e-4},{"s":42,"r":16,"v":2.4e-3},{"s":42,"r":17,"v":1e-2},{"s":42,"r":18,"v":2.4e-3},{"s":42,"r":19,"v":1e-2},{"s":42,"r":20,"v":2.7e-4},{"s":42,"r":21,"v":1.3e-4},{"s":42,"r":22,"v":2.4e-3},{"s":42,"r":23,"v":1.2e-3},{"s":42,"r":24,"v":1.2e-3},
{"s":43,"r":0,"v":5.6e-4},{"s":43,"r":1,"v":1.3e-4},{"s":43,"r":2,"v":1.4e-5},{"s":43,"r":3,"v":1.4e-5},{"s":43,"r":4,"v":5.6e-4},{"s":43,"r":5,"v":2.7e-4},{"s":43,"r":7,"v":1.2e-3},{"s":43,"r":8,"v":5.6e-4},{"s":43,"r":9,"v":6.2e-5},{"s":43,"r":10,"v":2.7e-4},{"s":43,"r":12,"v":1.3e-4},{"s":43,"r":13,"v":1.3e-4},{"s":43,"r":14,"v":6.2e-5},{"s":43,"r":15,"v":2.7e-4},{"s":43,"r":16,"v":5.6e-4},{"s":43,"r":17,"v":3e-5},{"s":43,"r":18,"v":1.3e-4},{"s":43,"r":19,"v":1.3e-4},{"s":43,"r":20,"v":1.2e-3},{"s":43,"r":21,"v":5.6e-4},{"s":43,"r":22,"v":1.2e-3},{"s":43,"r":23,"v":1.2e-3},{"s":43,"r":24,"v":2.4e-3},
{"s":44,"r":0,"v":1.2e-3},{"s":44,"r":1,"v":1.3e-4},{"s":44,"r":2,"v":6.2e-5},{"s":44,"r":3,"v":6.2e-5},{"s":44,"r":4,"v":5.6e-4},{"s":44,"r":8,"v":1.4e-5},{"s":44,"r":9,"v":5.6e-4},{"s":44,"r":11,"v":6.2e-5},{"s":44,"r":12,"v":2.7e-4},{"s":44,"r":13,"v":5.6e-4},{"s":44,"r":14,"v":5.6e-4},{"s":44,"r":15,"v":5.6e-4},{"s":44,"r":18,"v":1.3e-4},{"s":44,"r":21,"v":1.4e-5},{"s":44,"r":22,"v":1e-2},{"s":44,"r":23,"v":5.6e-4},{"s":44,"r":24,"v":2.4e-3}
]},
"transform":[{"calculate":"[0,1,2,3]","as":"c"},{"flatten":["c"]},{"calculate":"90+2*(datum.r+(datum.c==1||datum.c==2?1:0))","as":"rad"},{"calculate":"(4+8*(datum.s+(datum.c>=2?1:0)))*PI/180","as":"ang"},{"calculate":"datum.rad*cos(datum.ang)","as":"x"},{"calculate":"datum.rad*sin(datum.ang)","as":"y"},{"calculate":"datum.s*100+datum.r","as":"id"}],
"mark":{"type":"line","strokeWidth":0.3},
"encoding":{"x":{"field":"x","type":"quantitative","scale":{"domain":[-150,150],"nice":false,"zero":false,"range":[111,977]},"axis":{"orient":"bottom","offset":-86,"values":[-150,-100,-50,0,50,100,150],"labelExpr":"''+datum.value","title":"x (cm)","tickSize":-10,"labelPadding":30,"titlePadding":13}},
"y":{"field":"y","type":"quantitative","scale":{"domain":[-150,150],"nice":false,"zero":false,"range":[612,57]},"axis":{"orient":"left","offset":-111,"values":[-150,-100,-50,0,50,100,150],"labelExpr":"''+datum.value","title":"y (cm)","tickSize":-10,"labelPadding":29,"titlePadding":3}},
"detail":{"field":"id"},"order":{"field":"c"},
"fill":{"field":"v","type":"quantitative","legend":null,"scale":{"type":"threshold","domain":[1e-5,2.08e-5,4.32e-5,8.99e-5,1.87e-4,3.89e-4,8.09e-4,1.68e-3,3.5e-3,7.27e-3,1.51e-2,3.14e-2,6.53e-2,0.136,0.282,0.587,1.22,2.54,5.28],"range":["#ffffff","#aadcff","#55b5ff","#009dff","#00c0ff","#00c0c8","#00b578","#00e03c","#40f915","#8cff00","#bfff00","#e6ff00","#fff200","#ffcc00","#ff9d00","#ff6000","#ff0000","#dd0000","#b40000","#8b0000"]}},
"stroke":{"field":"v","type":"quantitative","legend":null,"scale":{"type":"threshold","domain":[1e-5,2.08e-5,4.32e-5,8.99e-5,1.87e-4,3.89e-4,8.09e-4,1.68e-3,3.5e-3,7.27e-3,1.51e-2,3.14e-2,6.53e-2,0.136,0.282,0.587,1.22,2.54,5.28],"range":["#ffffff","#aadcff","#55b5ff","#009dff","#00c0ff","#00c0c8","#00b578","#00e03c","#40f915","#8cff00","#bfff00","#e6ff00","#fff200","#ffcc00","#ff9d00","#ff6000","#ff0000","#dd0000","#b40000","#8b0000"]}}}},
{"data":{"values":[{"x":0,"y":0}]},"mark":{"type":"point","opacity":0},"encoding":{"x":{"field":"x","type":"quantitative","scale":{"domain":[-150,150],"nice":false,"zero":false,"range":[111,977]},"axis":{"orient":"top","offset":-57,"values":[-150,-100,-50,0,50,100,150],"labels":false,"title":null,"tickSize":-10}},"y":{"field":"y","type":"quantitative","scale":{"domain":[-150,150],"nice":false,"zero":false,"range":[612,57]},"axis":{"orient":"right","offset":-185,"values":[-150,-100,-50,0,50,100,150],"labels":false,"title":null,"tickSize":-10}}}},
{"data":{"values":[{"lo":4.7e-6,"hi":1e-5,"m":7e-6},{"lo":1e-5,"hi":2.08e-5,"m":1.4e-5},{"lo":2.08e-5,"hi":4.32e-5,"m":3e-5},{"lo":4.32e-5,"hi":8.99e-5,"m":6.2e-5},{"lo":8.99e-5,"hi":1.87e-4,"m":1.3e-4},{"lo":1.87e-4,"hi":3.89e-4,"m":2.7e-4},{"lo":3.89e-4,"hi":8.09e-4,"m":5.6e-4},{"lo":8.09e-4,"hi":1.68e-3,"m":1.2e-3},{"lo":1.68e-3,"hi":3.5e-3,"m":2.4e-3},{"lo":3.5e-3,"hi":7.27e-3,"m":5e-3},{"lo":7.27e-3,"hi":1.51e-2,"m":1e-2},{"lo":1.51e-2,"hi":3.14e-2,"m":2.2e-2},{"lo":3.14e-2,"hi":6.53e-2,"m":4.5e-2},{"lo":6.53e-2,"hi":0.136,"m":9.4e-2},{"lo":0.136,"hi":0.282,"m":0.196},{"lo":0.282,"hi":0.587,"m":0.407},{"lo":0.587,"hi":1.22,"m":0.845},{"lo":1.22,"hi":2.54,"m":1.76},{"lo":2.54,"hi":5.28,"m":3.66},{"lo":5.28,"hi":11,"m":7.6}]},
"mark":"rect","encoding":{"x":{"datum":0,"type":"quantitative","scale":{"domain":[0,1],"nice":false,"range":[1011,1067]},"axis":{"orient":"bottom","offset":-86,"labels":false,"ticks":false,"title":null}},"x2":{"datum":1},"y":{"field":"lo","type":"quantitative","scale":{"type":"log","domain":[4.7e-6,11],"nice":false,"range":[612,55]},"axis":{"orient":"right","offset":-95,"values":[1e-5,1e-4,1e-3,1e-2,0.1,1,10],"labelExpr":"datum.value<2e-5?'1e-05':''+datum.value","title":null,"tickSize":-10,"labelPadding":30}},"y2":{"field":"hi"},"color":{"field":"m","type":"quantitative","legend":null,"scale":{"type":"threshold","domain":[1e-5,2.08e-5,4.32e-5,8.99e-5,1.87e-4,3.89e-4,8.09e-4,1.68e-3,3.5e-3,7.27e-3,1.51e-2,3.14e-2,6.53e-2,0.136,0.282,0.587,1.22,2.54,5.28],"range":["#ffffff","#aadcff","#55b5ff","#009dff","#00c0ff","#00c0c8","#00b578","#00e03c","#40f915","#8cff00","#bfff00","#e6ff00","#fff200","#ffcc00","#ff9d00","#ff6000","#ff0000","#dd0000","#b40000","#8b0000"]}}}},
{"data":{"values":[{"lo":1,"hi":1}]},"mark":{"type":"rect","opacity":0},"encoding":{"x":{"datum":0,"type":"quantitative","scale":{"domain":[0,1],"nice":false,"range":[1011,1067]},"axis":{"orient":"top","offset":-55,"labels":false,"ticks":false,"title":null}},"x2":{"datum":1},"y":{"field":"lo","type":"quantitative","scale":{"type":"log","domain":[4.7e-6,11],"nice":false,"range":[612,55]},"axis":{"orient":"left","offset":-1011,"values":[1e-5,1e-4,1e-3,1e-2,0.1,1,10],"labels":false,"title":null,"tickSize":-10}},"y2":{"field":"hi"}}},
{"data":{"values":[{"lo":1,"hi":1}]},"mark":{"type":"rect","opacity":0},"encoding":{"y":{"field":"lo","type":"quantitative","scale":{"type":"log","domain":[4.7e-6,11],"nice":false,"range":[612,55]},"axis":{"orient":"right","offset":-95,"values":[2e-5,5e-5,8e-5,2e-4,5e-4,8e-4,2e-3,5e-3,8e-3,2e-2,5e-2,8e-2,0.2,0.5,0.8,2,5,8],"labels":false,"title":null,"tickSize":-5}},"y2":{"field":"hi"}}},
{"data":{"values":[{"lo":1,"hi":1}]},"mark":{"type":"rect","opacity":0},"encoding":{"y":{"field":"lo","type":"quantitative","scale":{"type":"log","domain":[4.7e-6,11],"nice":false,"range":[612,55]},"axis":{"orient":"left","offset":-1011,"values":[2e-5,5e-5,8e-5,2e-4,5e-4,8e-4,2e-3,5e-3,8e-3,2e-2,5e-2,8e-2,0.2,0.5,0.8,2,5,8],"labels":false,"title":null,"tickSize":-5}},"y2":{"field":"hi"}}}]}
